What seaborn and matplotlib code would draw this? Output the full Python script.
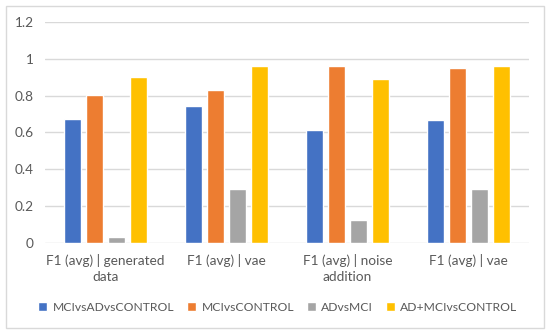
import matplotlib
matplotlib.use("Agg")
import matplotlib.pyplot as plt
import matplotlib.patches as mpatches
import seaborn as sns
import pandas as pd

# chart data
settings = ["F1 (avg) | generated\ndata", "F1 (avg) | vae", "F1 (avg) | noise\naddition", "F1 (avg) | vae"]
series = ["MCIvsADvsCONTROL", "MCIvsCONTROL", "ADvsMCI", "AD+MCIvsCONTROL"]
mci_ad_control = [0.672, 0.746, 0.613, 0.668]
mci_control = [0.804, 0.829, 0.960, 0.948]
ad_mci = [0.030, 0.292, 0.127, 0.295]
ad_mci_control = [0.901, 0.964, 0.890, 0.964]
colors = ["#4472C4", "#ED7D31", "#A5A5A5", "#FFC000"]

rows = []
for vals, name in zip([mci_ad_control, mci_control, ad_mci, ad_mci_control], series):
    for i, v in enumerate(vals):
        rows.append({"setting": str(i), "series": name, "value": v})
df = pd.DataFrame(rows)

sns.set_style("white")
plt.rcParams["font.family"] = ["Lato", "DejaVu Sans"]
text_color = "#595959"

fig = plt.figure(figsize=(5.5, 3.35), dpi=100)
ax = fig.add_axes([0.082, 0.275, 0.88, 0.659])

sns.barplot(data=df, x="setting", y="value", hue="series", palette=colors,
            width=0.73, gap=0.22, saturation=1, ax=ax, legend=True)

ax.set_ylim(0, 1.2)
ax.set_yticks([0, 0.2, 0.4, 0.6, 0.8, 1.0, 1.2])
ax.set_yticklabels(["0", "0.2", "0.4", "0.6", "0.8", "1", "1.2"])
ax.set_xticks(range(len(settings)))
ax.set_xticklabels(settings, linespacing=1.45)
ax.set_xlim(-0.5, len(settings) - 0.5)
ax.set_xlabel("")
ax.set_ylabel("")
ax.yaxis.grid(True, color="#D9D9D9", linewidth=1)
ax.set_axisbelow(True)
for s in ax.spines.values():
    s.set_visible(False)
ax.tick_params(axis="both", length=0, labelsize=9.8, colors=text_color, pad=8)

handles, labels = ax.get_legend_handles_labels()
ax.legend_.remove()
fig.legend(handles, labels, loc="center", bbox_to_anchor=(0.505, 0.083), ncol=4,
           frameon=False, fontsize=8.7, labelcolor=text_color, handlelength=0.75,
           handleheight=0.75, handletextpad=0.45, columnspacing=1.05)

fig.patches.append(mpatches.Rectangle((0.011, 0.02), 0.978, 0.962, transform=fig.transFigure,
                                      fill=False, edgecolor="#D9D9D9", linewidth=1))

fig.savefig("out.png", dpi=100)
